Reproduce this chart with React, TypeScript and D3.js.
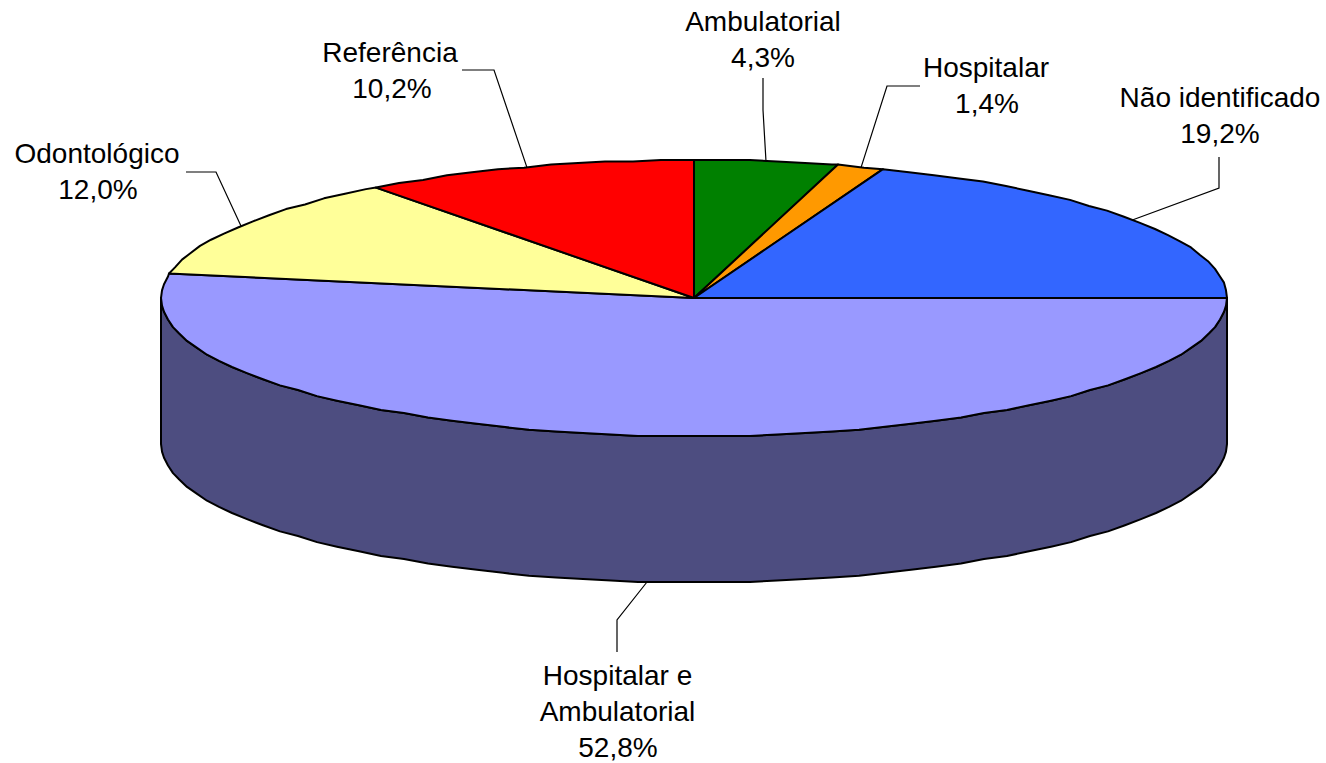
import React from "react";
import * as d3 from "d3";

const WIDTH = 1326;
const HEIGHT = 763;

const categories = ["Hospitalar e Ambulatorial", "Odontológico", "Referência", "Ambulatorial", "Hospitalar", "Não identificado"];
// one decimal of these gives the printed labels
const shares = [52.8, 12.04, 10.16, 4.34, 1.44, 19.22];
const nameLines = [["Hospitalar e", "Ambulatorial"], ["Odontológico"], ["Referência"], ["Ambulatorial"], ["Hospitalar"], ["Não identificado"]];

const colors = ["#9999FF", "#FFFF99", "#FF0000", "#008000", "#FF9900", "#3366FF"];
const WALL_COLOR = "#4D4D80";

// disc geometry
const X_RANGE: [number, number] = [161, 1227];
const Y_RANGE: [number, number] = [160, 436];
const DEPTH = 146;
const ARC_STEP = Math.PI / 60;
// the original outline is snapped to a grid, which gives the slightly wobbly edge
const GRID_STEPS_X = 533;
const GRID_STEPS_Y = 90;

// leader elbow, leader end and label placement, same order as categories
const elbows = [[617, 620], [216, 172], [494, 70], [763, 110], [887, 86], [1219, 188]];
const leaderEnds = [[617, 652], [186, 172], [462, 70], [763, 78], [920, 86], [1219, 157]];
const labelPos = [[617.5, 685], [97, 163], [390, 62], [763, 31], [986, 77], [1220, 107]];
const percentOffset = [0.5, 1, 2, 0, 1, 0];
const LINE_GAP = 36;

const xScale = d3.scaleLinear().domain([-1, 1]).range(X_RANGE);
const yScale = d3.scaleLinear().domain([-1, 1]).range(Y_RANGE);

// d3 pie angles: 0 at twelve o'clock, clockwise. The first slice starts at three o'clock
const pie = d3.pie<number>().sort(null).startAngle(Math.PI / 2).endAngle(Math.PI * 2.5);
const slices = pie(shares);

const pointAt = (a: number, drop = 0): [number, number] => [
  xScale(Math.round(Math.sin(a) * GRID_STEPS_X) / GRID_STEPS_X),
  yScale(Math.round(-Math.cos(a) * GRID_STEPS_Y) / GRID_STEPS_Y) + drop,
];

const arcPoints = (a0: number, a1: number, drop = 0) => {
  const pts = d3.range(a0, a1, ARC_STEP).map((a) => pointAt(a, drop));
  pts.push(pointAt(a1, drop));
  return pts;
};

const line = d3.line();

const wallPath = () => {
  const top = arcPoints(Math.PI / 2, Math.PI * 1.5);
  const bottom = arcPoints(Math.PI / 2, Math.PI * 1.5, DEPTH).reverse();
  return line([...top, ...bottom]) + "Z";
};

const slicePath = (a0: number, a1: number) => {
  const center: [number, number] = [xScale(0), yScale(0)];
  return line([center, ...arcPoints(a0, a1)]) + "Z";
};

const formatShare = (v: number) => v.toFixed(1).replace(".", ",") + "%";

export default function App() {
  return (
    <svg
      width={WIDTH}
      height={HEIGHT}
      style={{ position: "absolute", left: 0, top: 0, background: "#fff" }}
      fontFamily="'Liberation Sans', Arial, sans-serif"
    >
      <path d={wallPath()} fill={WALL_COLOR} stroke="#000" strokeWidth={2} strokeLinejoin="round" />
      {slices.map((s, i) => (
        <path
          key={categories[i]}
          d={slicePath(s.startAngle, s.endAngle)}
          fill={colors[i]}
          stroke="#000"
          strokeWidth={2}
          strokeLinejoin="round"
        />
      ))}
      {slices.map((s, i) => {
        const mid = (s.startAngle + s.endAngle) / 2;
        // front slices hang their leader from the bottom edge of the wall
        const anchor = pointAt(mid, Math.cos(mid) < 0 ? DEPTH : 0);
        return (
          <path
            key={categories[i]}
            d={line([anchor, elbows[i] as [number, number], leaderEnds[i] as [number, number]]) || ""}
            fill="none"
            stroke="#000"
            strokeWidth={1.2}
          />
        );
      })}
      {slices.map((s, i) => {
        const names = nameLines[i];
        const [lx, ly] = labelPos[i];
        return (
          <text key={categories[i]} fontSize={28} textAnchor="middle" fill="#000">
            {names.map((t, j) => (
              <tspan key={j} x={lx} y={ly + j * LINE_GAP}>
                {t}
              </tspan>
            ))}
            <tspan x={lx + percentOffset[i]} y={ly + names.length * LINE_GAP}>
              {formatShare(s.data)}
            </tspan>
          </text>
        );
      })}
    </svg>
  );
}
